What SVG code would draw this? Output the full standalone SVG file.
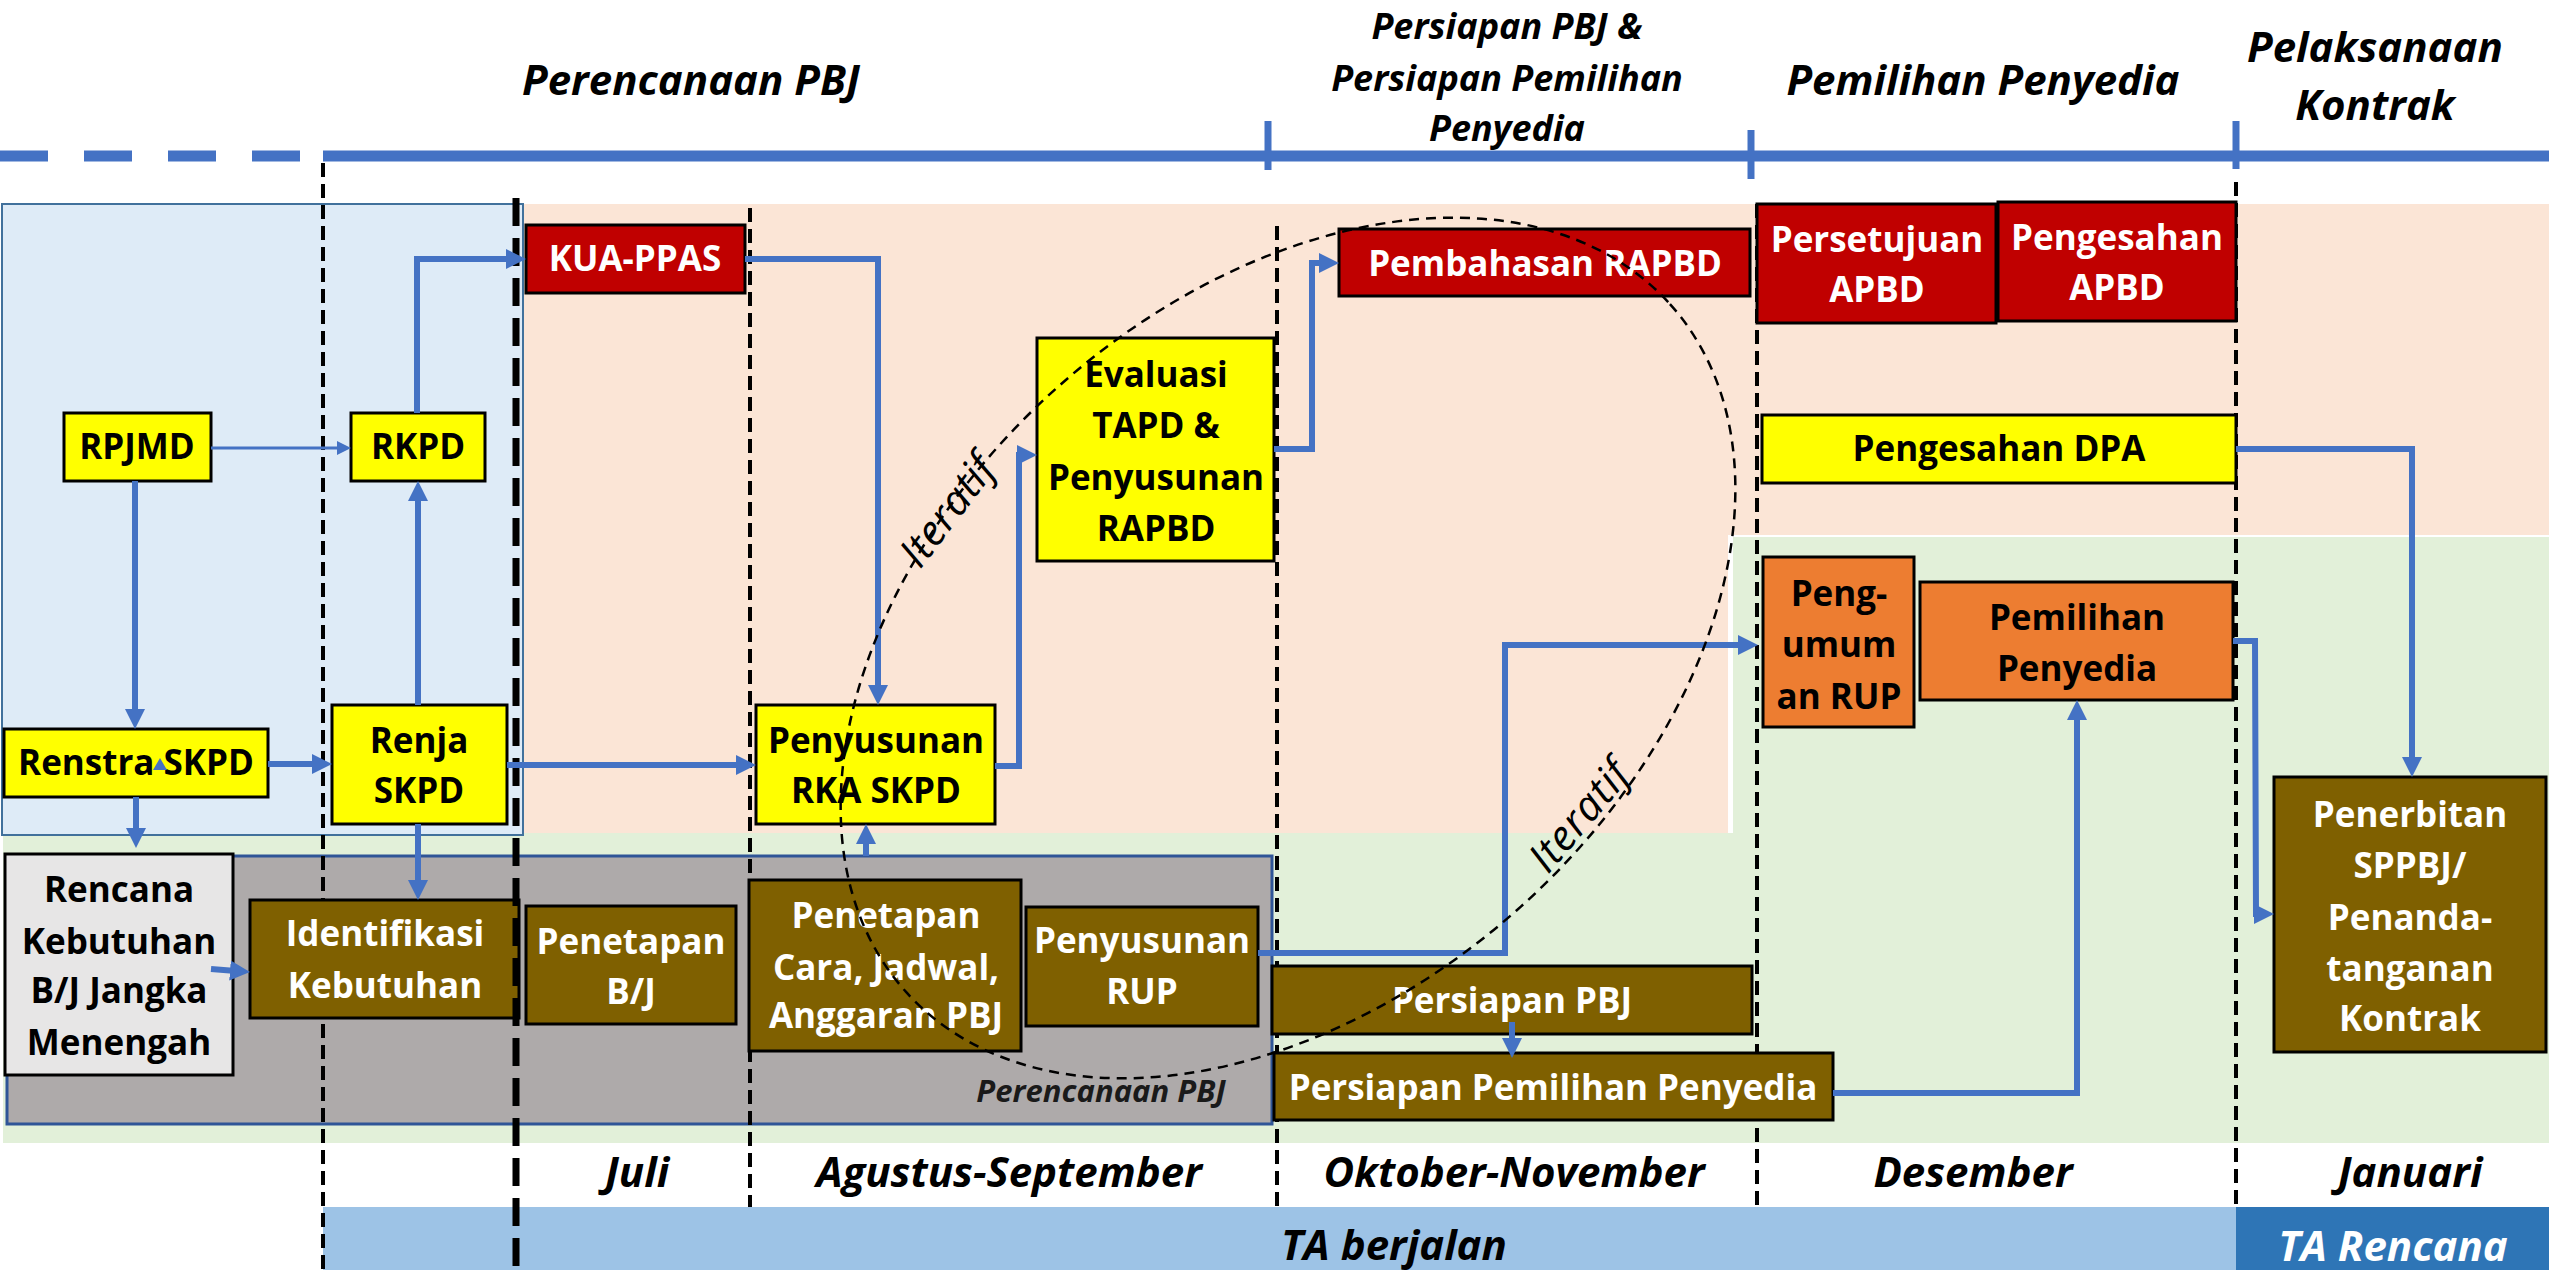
<svg xmlns="http://www.w3.org/2000/svg" width="2549" height="1270" viewBox="0 0 2549 1270">
<style>
.t{font-family:"Open Sans",Lato,"Liberation Sans",sans-serif;font-weight:bold;font-size:35px;text-anchor:middle}
.w{fill:#ffffff}
.k{fill:#000000}
.it{font-style:italic;font-size:42px}
.sm{font-size:36px}
.box{stroke:#000;stroke-width:3}
.y{fill:#ffff00}
.r{fill:#c00000}
.b{fill:#7f6000}
.o{fill:#ed7d31}
.g{fill:#e7e6e6}
.c{fill:none;stroke:#4472c4;stroke-width:6}
.c3{fill:none;stroke:#4472c4;stroke-width:3}
.vd{stroke:#000;stroke-width:4;stroke-dasharray:14 7;fill:none}
.itr{font-family:"Open Sans",Lato,sans-serif;font-style:italic;font-size:42px;fill:#000}
</style>
<defs>
<marker id="ah" viewBox="0 0 20 20" markerWidth="20" markerHeight="20" refX="6" refY="10" orient="auto" markerUnits="userSpaceOnUse"><path d="M0,0L20,10L0,20z" fill="#4472c4"/></marker>
<marker id="ahs" viewBox="0 0 14 14" markerWidth="14" markerHeight="14" refX="4" refY="7" orient="auto" markerUnits="userSpaceOnUse"><path d="M0,0L14,7L0,14z" fill="#4472c4"/></marker>
</defs>
<rect width="2549" height="1270" fill="#ffffff"/>
<g id="backgrounds">
<rect x="523" y="204" width="2026" height="331" fill="#fbe5d6"/>
<rect x="523" y="535" width="1205" height="298" fill="#fbe5d6"/>
<rect x="3" y="833" width="2546" height="310" fill="#e2f0d9"/>
<rect x="1733" y="537" width="816" height="296" fill="#e2f0d9"/>
<rect x="2" y="204" width="521" height="631" fill="#deebf7" stroke="#41719c" stroke-width="2"/>
<rect x="7" y="856" width="1265" height="268" fill="#aeaaaa" stroke="#2f5597" stroke-width="3"/>
<rect x="323" y="1207" width="1913" height="63" fill="#9dc3e6"/>
<rect x="2236" y="1207" width="313" height="63" fill="#2e75b6"/>
</g>
<g id="timeline">
<line x1="0" y1="156" x2="300" y2="156" stroke="#4472c4" stroke-width="11" stroke-dasharray="48 36"/>
<line x1="323" y1="156" x2="2549" y2="156" stroke="#4472c4" stroke-width="11"/>
<line x1="1268" y1="121" x2="1268" y2="170" stroke="#4472c4" stroke-width="7"/>
<line x1="1751" y1="130" x2="1751" y2="179" stroke="#4472c4" stroke-width="7"/>
<line x1="2236" y1="121" x2="2236" y2="169" stroke="#4472c4" stroke-width="7"/>
</g>
<g id="dividers">
<line class="vd" x1="323" y1="163" x2="323" y2="1270"/>
<line class="vd" x1="750" y1="208" x2="750" y2="1207"/>
<line class="vd" x1="1277" y1="226" x2="1277" y2="1207"/>
<line class="vd" x1="1757" y1="204" x2="1757" y2="1207"/>
<line class="vd" x1="2236" y1="182" x2="2236" y2="1207"/>
</g>
<g id="n-rpjmd"><rect class="box y" x="64" y="413" width="147" height="68"/><text class="t k" x="137" y="459">RPJMD</text></g>
<g id="n-rkpd"><rect class="box y" x="351" y="413" width="134" height="68"/><text class="t k" x="418" y="459">RKPD</text></g>
<g id="n-kua"><rect class="box r" x="526" y="225" width="219" height="68"/><text class="t w" x="635" y="271">KUA-PPAS</text></g>
<g id="n-renstra"><rect class="box y" x="4" y="729" width="264" height="68"/><text class="t k" x="136" y="775">Renstra SKPD</text></g>
<g id="n-renja"><rect class="box y" x="332" y="705" width="175" height="119"/><text class="t k" x="419" y="753">Renja</text><text class="t k" x="419" y="803">SKPD</text></g>
<g id="n-rencana"><rect class="box g" x="5" y="854" width="228" height="221"/><text class="t k" x="119" y="902">Rencana</text><text class="t k" x="119" y="954">Kebutuhan</text><text class="t k" x="119" y="1003">B/J Jangka</text><text class="t k" x="119" y="1055">Menengah</text></g>
<g id="n-identifikasi"><rect class="box b" x="250" y="900" width="269" height="118"/><text class="t w" x="385" y="946">Identifikasi</text><text class="t w" x="385" y="998">Kebutuhan</text></g>
<g id="n-penetapan-bj"><rect class="box b" x="526" y="906" width="210" height="118"/><text class="t w" x="631" y="954">Penetapan</text><text class="t w" x="631" y="1004">B/J</text></g>
<g id="n-rka"><rect class="box y" x="756" y="705" width="239" height="119"/><text class="t k" x="876" y="753">Penyusunan</text><text class="t k" x="876" y="803">RKA SKPD</text></g>
<g id="n-evaluasi"><rect class="box y" x="1037" y="338" width="237" height="223"/><text class="t k" x="1156" y="387">Evaluasi</text><text class="t k" x="1156" y="438">TAPD &amp;</text><text class="t k" x="1156" y="490">Penyusunan</text><text class="t k" x="1156" y="541">RAPBD</text></g>
<g id="n-pembahasan"><rect class="box r" x="1339" y="229" width="411" height="67"/><text class="t w" x="1545" y="276">Pembahasan RAPBD</text></g>
<g id="n-persetujuan"><rect class="box r" x="1757" y="204" width="239" height="119"/><text class="t w" x="1877" y="252">Persetujuan</text><text class="t w" x="1877" y="302">APBD</text></g>
<g id="n-pengesahan-apbd"><rect class="box r" x="1998" y="202" width="238" height="119"/><text class="t w" x="2117" y="250">Pengesahan</text><text class="t w" x="2117" y="300">APBD</text></g>
<g id="n-dpa"><rect class="box y" x="1762" y="415" width="474" height="68"/><text class="t k" x="1999" y="461">Pengesahan DPA</text></g>
<g id="n-pengumuman"><rect class="box o" x="1763" y="557" width="151" height="170"/><text class="t k" x="1839" y="606">Peng-</text><text class="t k" x="1839" y="657">umum</text><text class="t k" x="1839" y="709">an RUP</text></g>
<g id="n-pemilihan"><rect class="box o" x="1920" y="582" width="313" height="118"/><text class="t k" x="2077" y="630">Pemilihan</text><text class="t k" x="2077" y="681">Penyedia</text></g>
<g id="n-penerbitan"><rect class="box b" x="2274" y="777" width="272" height="275"/><text class="t w" x="2410" y="827">Penerbitan</text><text class="t w" x="2410" y="878">SPPBJ/</text><text class="t w" x="2410" y="930">Penanda-</text><text class="t w" x="2410" y="981">tanganan</text><text class="t w" x="2410" y="1031">Kontrak</text></g>
<g id="n-penetapan-cara"><rect class="box b" x="749" y="880" width="272" height="171"/><text class="t w" x="886" y="928">Penetapan</text><text class="t w" x="886" y="980">Cara, Jadwal,</text><text class="t w" x="886" y="1028">Anggaran PBJ</text></g>
<g id="n-rup"><rect class="box b" x="1026" y="907" width="232" height="119"/><text class="t w" x="1142" y="953">Penyusunan</text><text class="t w" x="1142" y="1004">RUP</text></g>
<g id="n-persiapan-pbj"><rect class="box b" x="1272" y="966" width="480" height="68"/><text class="t w" x="1512" y="1013">Persiapan PBJ</text></g>
<g id="n-persiapan-pemilihan"><rect class="box b" x="1274" y="1053" width="559" height="67"/><text class="t w" x="1553" y="1100">Persiapan Pemilihan Penyedia</text></g>
<line x1="516" y1="198" x2="516" y2="1270" stroke="#000" stroke-width="7" stroke-dasharray="28 12"/>
<g id="connectors">
<path class="c3" d="M211,448H341" marker-end="url(#ahs)"/>
<path class="c" d="M135,481V715" marker-end="url(#ah)"/>
<path class="c" d="M268,764H318" marker-end="url(#ah)"/>
<path class="c" d="M136,797V834" marker-end="url(#ah)"/>
<path class="c" d="M418,705V495" marker-end="url(#ah)"/>
<path class="c" d="M417,413V259H512" marker-end="url(#ah)"/>
<path class="c" d="M418,824V886" marker-end="url(#ah)"/>
<path class="c" d="M211,969L236,971" marker-end="url(#ah)"/>
<path class="c" d="M507,765H742" marker-end="url(#ah)"/>
<path class="c" d="M745,259H878V691" marker-end="url(#ah)"/>
<path class="c" d="M866,856V838" marker-end="url(#ah)"/>
<path class="c" d="M995,766H1019V455H1023" marker-end="url(#ah)"/>
<path class="c" d="M1274,449H1312V263H1325" marker-end="url(#ah)"/>
<path class="c" d="M2236,449H2412V763" marker-end="url(#ah)"/>
<path class="c" d="M1258,953H1505V645H1744" marker-end="url(#ah)"/>
<path class="c" d="M1512,1022V1044" marker-end="url(#ah)"/>
<path class="c" d="M1833,1093H2077V714" marker-end="url(#ah)"/>
<path class="c" d="M2233,641H2255L2256,914H2260" marker-end="url(#ah)"/>
<polygon points="160,758 153,770 167,770" fill="#4472c4"/>
</g>
<g id="iteratif">
<ellipse cx="1288" cy="648" rx="514" ry="348" transform="rotate(-42 1288 648)" fill="none" stroke="#000" stroke-width="2.5" stroke-dasharray="10 7"/>
<text class="itr" transform="translate(920,570) rotate(-52.6)" textLength="127">Iteratif</text>
<text class="itr" transform="translate(1548,875) rotate(-49.7)" textLength="130">Iteratif</text>
<text class="t it" x="1101" y="1102" style="font-size:31px;fill:#1a1a1a">Perencanaan PBJ</text>
</g>
<g id="titles">
<text class="t it sm k" x="1507" y="39">Persiapan PBJ &amp;</text>
<text class="t it sm k" x="1507" y="91">Persiapan Pemilihan</text>
<text class="t it sm k" x="1507" y="141">Penyedia</text>
<text class="t it k" x="691" y="95">Perencanaan PBJ</text>
<text class="t it k" x="1983" y="95">Pemilihan Penyedia</text>
<text class="t it k" x="2375" y="62">Pelaksanaan</text>
<text class="t it k" x="2375" y="120">Kontrak</text>
<text class="t it k" x="637" y="1187">Juli</text>
<text class="t it k" x="1009" y="1187">Agustus-September</text>
<text class="t it k" x="1514" y="1187">Oktober-November</text>
<text class="t it k" x="1973" y="1187">Desember</text>
<text class="t it k" x="2410" y="1187">Januari</text>
<text class="t it k" x="1394" y="1260">TA berjalan</text>
<text class="t it w" x="2393" y="1261">TA Rencana</text>
</g>
</svg>
